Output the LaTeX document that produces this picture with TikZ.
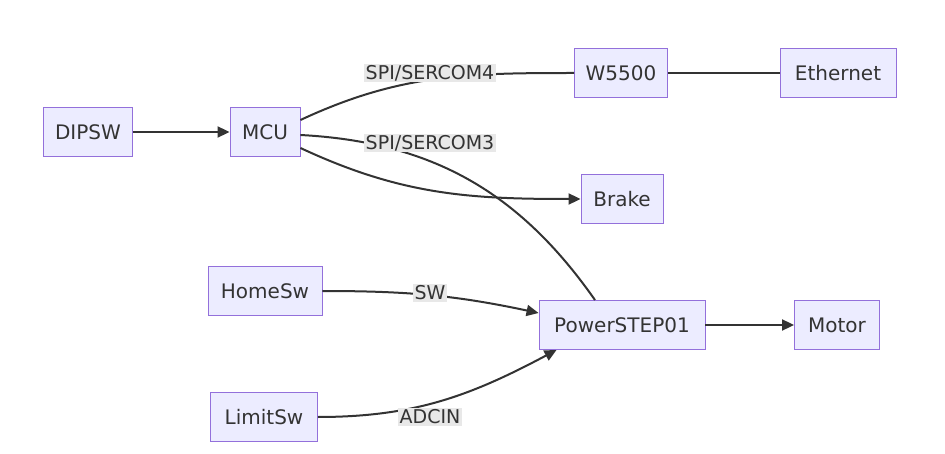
\documentclass[tikz,border=0pt]{standalone}
\usepackage{fontspec}
\setmainfont{DejaVu Sans}
\usetikzlibrary{arrows.meta}
\definecolor{boxfill}{HTML}{ECECFF}
\definecolor{boxline}{HTML}{9370DB}
\definecolor{edgecol}{HTML}{333333}
\definecolor{lblfill}{HTML}{E8E8E8}
\tikzset{
  box/.style={draw=boxline,fill=boxfill,line width=0.9pt,minimum height=49pt,inner xsep=11pt,font=\fontsize{20}{24}\selectfont,text=edgecol},
  link/.style={draw=edgecol,line width=2pt},
  arr/.style={link,-{Triangle[length=12pt,width=11pt]}},
  lbl/.style={fill=lblfill,inner sep=1.5pt,font=\fontsize{19}{22}\selectfont,text=edgecol}
}
\begin{document}
\begin{tikzpicture}[x=1pt,y=1pt,yscale=-1]
\useasboundingbox (0,0) rectangle (945,454);

% Nodes
\node[box,minimum width=89pt] (dipsw) at (88,132) {DIPSW};
\node[box,minimum width=70pt] (mcu) at (265,132) {MCU};
\node[box,minimum width=93pt] (w5500) at (621,73) {W5500};
\node[box,minimum width=116pt] (eth) at (838,73) {Ethernet};
\node[box,minimum width=82pt] (brake) at (622,199) {Brake};
\node[box,minimum width=114pt] (homesw) at (265,291) {HomeSw};
\node[box,minimum width=166pt] (pstep) at (622,325) {PowerSTEP01};
\node[box,minimum width=85pt] (motor) at (837,325) {Motor};
\node[box,minimum width=107pt] (limitsw) at (264,417) {LimitSw};

% Edges
\draw[link] ([yshift=-12pt]mcu.east) to[out=-25,in=180] (w5500.west);
\draw[link] (w5500) -- (eth);
\draw[link] ([yshift=3pt]mcu.east) to[out=3,in=-125] ([xshift=-27pt]pstep.north);
\draw[arr] ([yshift=16pt]mcu.east) to[out=25,in=180] (brake.west);
\draw[arr] (dipsw) -- (mcu);
\draw[arr] (homesw.east) to[out=0,in=-168] ([yshift=-12pt]pstep.west);
\draw[arr] (limitsw.east) to[out=0,in=152] ([xshift=18pt]pstep.south west);
\draw[arr] (pstep) -- (motor);

% Labels
\node[lbl] (l4) at (430,73) {SPI/SERCOM4};
\node[lbl] (l3) at (430,143) {SPI/SERCOM3};
\node[lbl] (lsw) at (430,293) {SW};
\node[lbl] (ladc) at (430,417) {ADCIN};
\end{tikzpicture}
\end{document}
